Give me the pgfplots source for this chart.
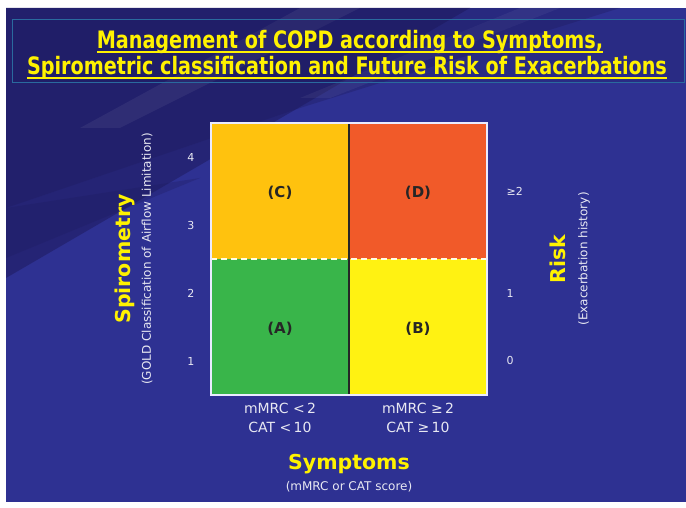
\documentclass[border=0pt]{standalone}
\usepackage{fontspec}
\setmainfont{DejaVu Sans}
\newfontfamily\titlefont{DejaVu Sans}[FakeStretch=0.80]
\newcommand\ulu[1]{\setbox0\hbox{#1}\rlap{\rule[-4pt]{\wd0}{1.7pt}}\box0}
\usepackage{pgfplots}
\pgfplotsset{compat=1.18}
\definecolor{bgblue}{HTML}{2E3192}
\definecolor{bgdark}{HTML}{1E1B5E}
\definecolor{slideyellow}{HTML}{FFF200}
\definecolor{qA}{HTML}{39B54A}
\definecolor{qB}{HTML}{FFF212}
\definecolor{qC}{HTML}{FFC20E}
\definecolor{qD}{HTML}{F15A29}
\definecolor{lbl}{HTML}{E8E8F2}
\definecolor{boxline}{HTML}{2A6A9E}
\begin{document}
\begin{tikzpicture}[x=1pt,y=1pt]
% slide background
\fill[white] (0,0) rectangle (686,508);
\fill[bgblue] (6,6) rectangle (686,500);
\fill[bgdark, opacity=0.55] (6,500) -- (470,500) -- (6,230) -- cycle;
\fill[bgdark, opacity=0.35] (6,500) -- (620,500) -- (300,400) -- (6,300) -- cycle;
\fill[bgdark, opacity=0.3] (6,300) -- (200,330) -- (6,250) -- cycle;
\fill[white, opacity=0.06] (300,500) -- (360,500) -- (120,380) -- (80,380) -- cycle;
\fill[white, opacity=0.05] (520,500) -- (560,500) -- (330,410) -- (300,410) -- cycle;
% title box
\draw[boxline, fill=bgdark, fill opacity=0.25, line width=1pt] (12,425) rectangle (684,488);
\node[text=slideyellow, font=\titlefont\bfseries\fontsize{24}{28}\selectfont] at (350,466) {\ulu{Management of COPD according to Symptoms,}};
\node[text=slideyellow, font=\titlefont\bfseries\fontsize{24}{28}\selectfont] at (347,440) {\ulu{Spirometric classification and Future Risk of Exacerbations}};
% main grid
\begin{axis}[at={(211pt,113pt)}, anchor=south west, scale only axis,
  width=276pt, height=272pt, xmin=0, xmax=2, ymin=0, ymax=2,
  axis on top, axis line style={draw=white!92!blue, line width=2pt},
  major tick length=0pt,
  xtick={0.5,1.5},
  xticklabels={{mMRC <\,2\\CAT <\,10},{mMRC ≥\,2\\CAT ≥\,10}},
  xticklabel style={align=center, text=lbl, font=\fontsize{14}{19}\selectfont, yshift=-5pt},
  ytick={0.25,0.75,1.25,1.75}, yticklabels={1,2,3,4},
  yticklabel style={text=lbl, font=\fontsize{11}{13}\selectfont, xshift=-13pt},
  every axis x label/.style={at={(axis description cs:0.5,-0.288)}, anchor=center, align=center},
  xlabel={{\color{slideyellow}\bfseries\fontsize{20.5}{24}\selectfont Symptoms}\\[7pt]{\color{lbl}\fontsize{12}{14}\selectfont (mMRC or CAT score)}},
  every axis y label/.style={at={(axis description cs:-0.280,0.5)}, rotate=90, anchor=center, align=center},
  ylabel={{\color{slideyellow}\bfseries\fontsize{20.5}{24}\selectfont Spirometry}\\[6pt]{\color{lbl}\fontsize{12}{14}\selectfont (GOLD Classification of Airflow Limitation)}},
]
\addplot[draw=none, fill=qA] coordinates {(0,0) (1,0) (1,1) (0,1)} -- cycle;
\addplot[draw=none, fill=qB] coordinates {(1,0) (2,0) (2,1) (1,1)} -- cycle;
\addplot[draw=none, fill=qC] coordinates {(0,1) (1,1) (1,2) (0,2)} -- cycle;
\addplot[draw=none, fill=qD] coordinates {(1,1) (2,1) (2,2) (1,2)} -- cycle;
\addplot[black!85, line width=1.8pt] coordinates {(1,0) (1,2)};
\addplot[white!90!yellow, line width=1.5pt, dash pattern=on 6pt off 4pt] coordinates {(0,1) (2,1)};
\node[font=\bfseries\fontsize{15}{18}\selectfont, text=black!85] at (axis cs:0.5,0.49) {(A)};
\node[font=\bfseries\fontsize{15}{18}\selectfont, text=black!85] at (axis cs:1.5,0.49) {(B)};
\node[font=\bfseries\fontsize{15}{18}\selectfont, text=black!85] at (axis cs:0.5,1.485) {(C)};
\node[font=\bfseries\fontsize{15}{18}\selectfont, text=black!85] at (axis cs:1.5,1.485) {(D)};
\end{axis}
% right-hand scale
\begin{axis}[at={(211pt,113pt)}, anchor=south west, scale only axis,
  width=276pt, height=272pt, xmin=0, xmax=2, ymin=0, ymax=2,
  axis y line*=right, hide x axis, axis line style={draw=none},
  major tick length=0pt,
  ytick={0.25,0.75,1.5}, yticklabels={0,1,≥2},
  yticklabel style={text=lbl, font=\fontsize{11}{13}\selectfont, xshift=16pt, anchor=west},
  every axis y label/.style={at={(axis description cs:1.30,0.5)}, rotate=90, anchor=center, align=center},
  ylabel={{\color{slideyellow}\bfseries\fontsize{20.5}{24}\selectfont Risk}\\[10pt]{\color{lbl}\fontsize{12}{14}\selectfont (Exacerbation history)}},
]
\addplot[draw=none] coordinates {(0,0)};
\end{axis}
\end{tikzpicture}
\end{document}
